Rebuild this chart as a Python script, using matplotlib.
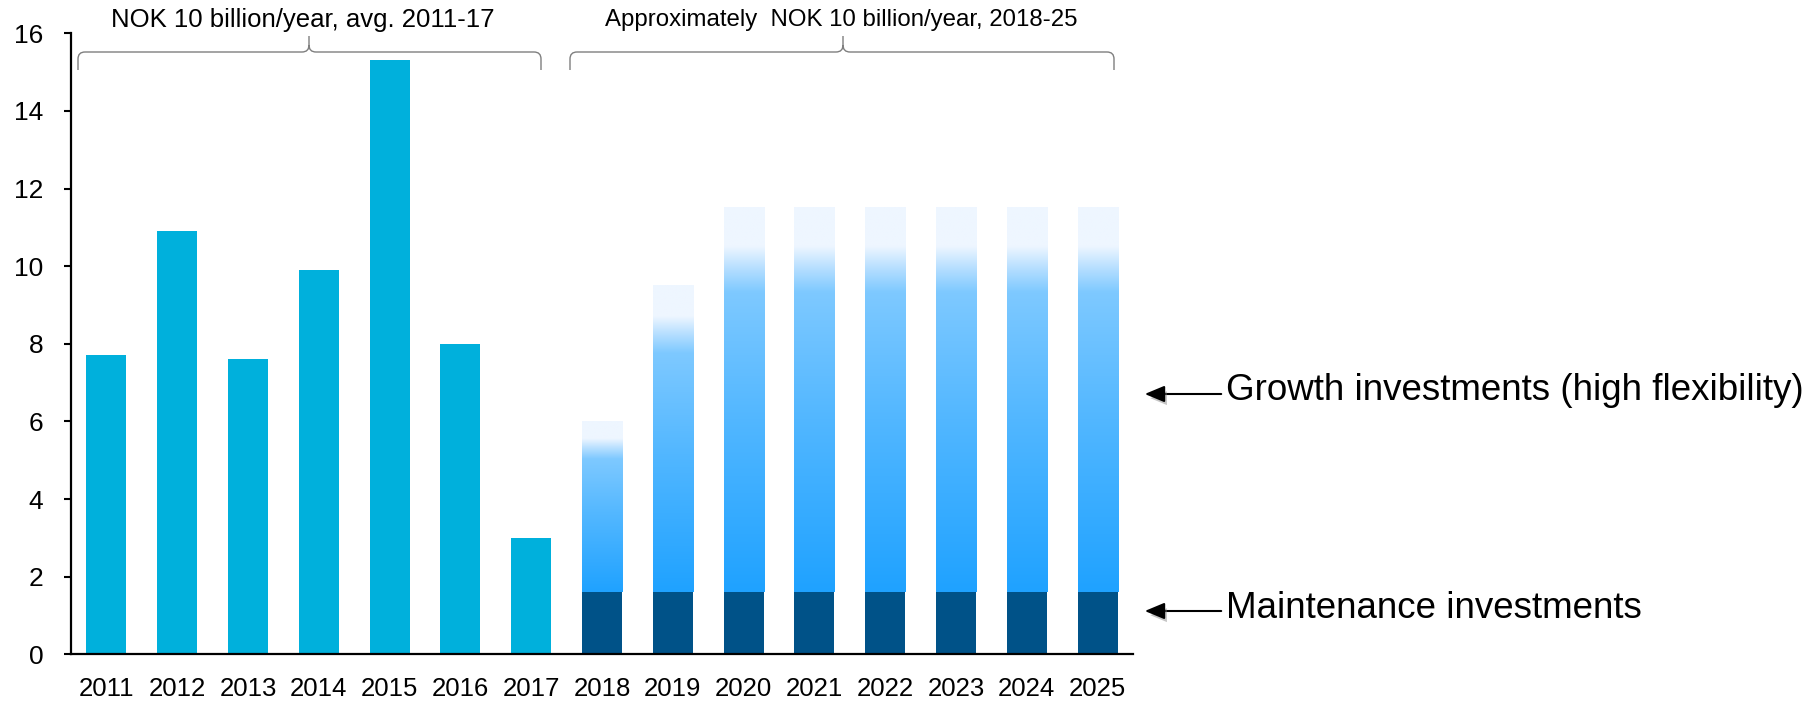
import numpy as np
import matplotlib
matplotlib.use('Agg')
import matplotlib.pyplot as plt
from matplotlib.path import Path
from matplotlib.patches import PathPatch, FancyArrowPatch
from matplotlib.colors import LinearSegmentedColormap
import matplotlib.patheffects as pe

plt.rcParams['font.family'] = ['Liberation Sans', 'DejaVu Sans']

# data
years = ['2011', '2012', '2013', '2014', '2015', '2016', '2017',
         '2018', '2019', '2020', '2021', '2022', '2023', '2024', '2025']
historic = [7.7, 10.9, 7.6, 9.9, 15.3, 8.0, 3.0]
maintenance = [1.6, 1.6, 1.6, 1.6, 1.6, 1.6, 1.6, 1.6]
plan_total = [6.0, 9.5, 11.5, 11.5, 11.5, 11.5, 11.5, 11.5]
brace_labels = ['NOK 10 billion/year, avg. 2011-17',
                'Approximately  NOK 10 billion/year, 2018-25']
arrow_labels = ['Growth investments (high flexibility)', 'Maintenance investments']

W, H = 1816, 702
CYAN = '#00B0DC'
NAVY = '#005288'
BAR_W = 0.565

fig = plt.figure(figsize=(W / 100, H / 100), dpi=100)
ax = fig.add_axes([71 / W, 1 - 654.3 / H, (1133 - 71) / W, (654.3 - 33.3) / H])

x_hist = np.arange(len(historic))
ax.bar(x_hist, historic, width=BAR_W, color=CYAN, zorder=2)

x_plan = np.arange(len(historic), len(years))
ax.bar(x_plan, maintenance, width=BAR_W, color=NAVY, zorder=2)

# growth part drawn with a vertical fade towards the top
grad_cmap = LinearSegmentedColormap.from_list('growth', [
    (0.0, '#1FA2FF'), (0.45, '#52B7FF'), (0.78, '#7EC9FF'),
    (0.84, '#B4DEFF'), (0.90, '#EEF6FF'), (1.0, '#EEF6FF')])
grad = np.linspace(0, 1, 256).reshape(-1, 1)
for xp, base, top in zip(x_plan, maintenance, plan_total):
    ax.imshow(grad, cmap=grad_cmap, aspect='auto', origin='lower',
              interpolation='bilinear', zorder=2,
              extent=[xp - BAR_W / 2, xp + BAR_W / 2, base, top])

ax.set_xlim(-0.5, len(years) - 0.5)
ax.set_ylim(0, 16)
ax.set_yticks(range(0, 17, 2))
ax.set_xticks(np.arange(len(years)))
ax.set_xticklabels(years)
ax.tick_params(axis='y', labelsize=19, length=5, width=1.5, pad=15)
ax.tick_params(axis='x', labelsize=18.5, length=0, pad=16)
for s in ['top', 'right']:
    ax.spines[s].set_visible(False)
for s in ['left', 'bottom']:
    ax.spines[s].set_linewidth(1.6)


def px(x, y):
    return (x / W, 1 - y / H)


def brace(x0, x1, xm, y_line=52, y_end=70, y_peak=36, r=7):
    verts = [px(x0, y_end), px(x0, y_line + r), px(x0, y_line), px(x0 + r, y_line),
             px(xm - r, y_line), px(xm, y_line), px(xm, y_line - r), px(xm, y_peak),
             px(xm, y_line - r), px(xm, y_line), px(xm + r, y_line),
             px(x1 - r, y_line), px(x1, y_line), px(x1, y_line + r), px(x1, y_end)]
    codes = [Path.MOVETO, Path.LINETO, Path.CURVE3, Path.CURVE3,
             Path.LINETO, Path.CURVE3, Path.CURVE3, Path.LINETO,
             Path.MOVETO, Path.CURVE3, Path.CURVE3,
             Path.LINETO, Path.CURVE3, Path.CURVE3, Path.LINETO]
    fig.add_artist(PathPatch(Path(verts, codes), fill=False, edgecolor='#7F7F7F',
                             linewidth=1.0, transform=fig.transFigure))


brace(78, 541, 309)
brace(570, 1114, 843)
fig.text(*px(303, 20), brace_labels[0], fontsize=18.5, ha='center', va='center')
fig.text(*px(841, 20), brace_labels[1], fontsize=17.3, ha='center', va='center')

# side annotations
shadow = [pe.SimplePatchShadow(offset=(2, -3), shadow_rgbFace='0.5', alpha=0.45), pe.Normal()]
for label, y in zip(arrow_labels, [394, 611]):
    fig.add_artist(FancyArrowPatch(
        px(1224, y), px(1142, y), transform=fig.transFigure,
        arrowstyle='-|>,head_length=12,head_width=5', color='black',
        linewidth=1.5, path_effects=shadow))
    fig.text(*px(1226, y - 3), label, fontsize=26.5, ha='left', va='center')

fig.savefig('out.png', dpi=100)
